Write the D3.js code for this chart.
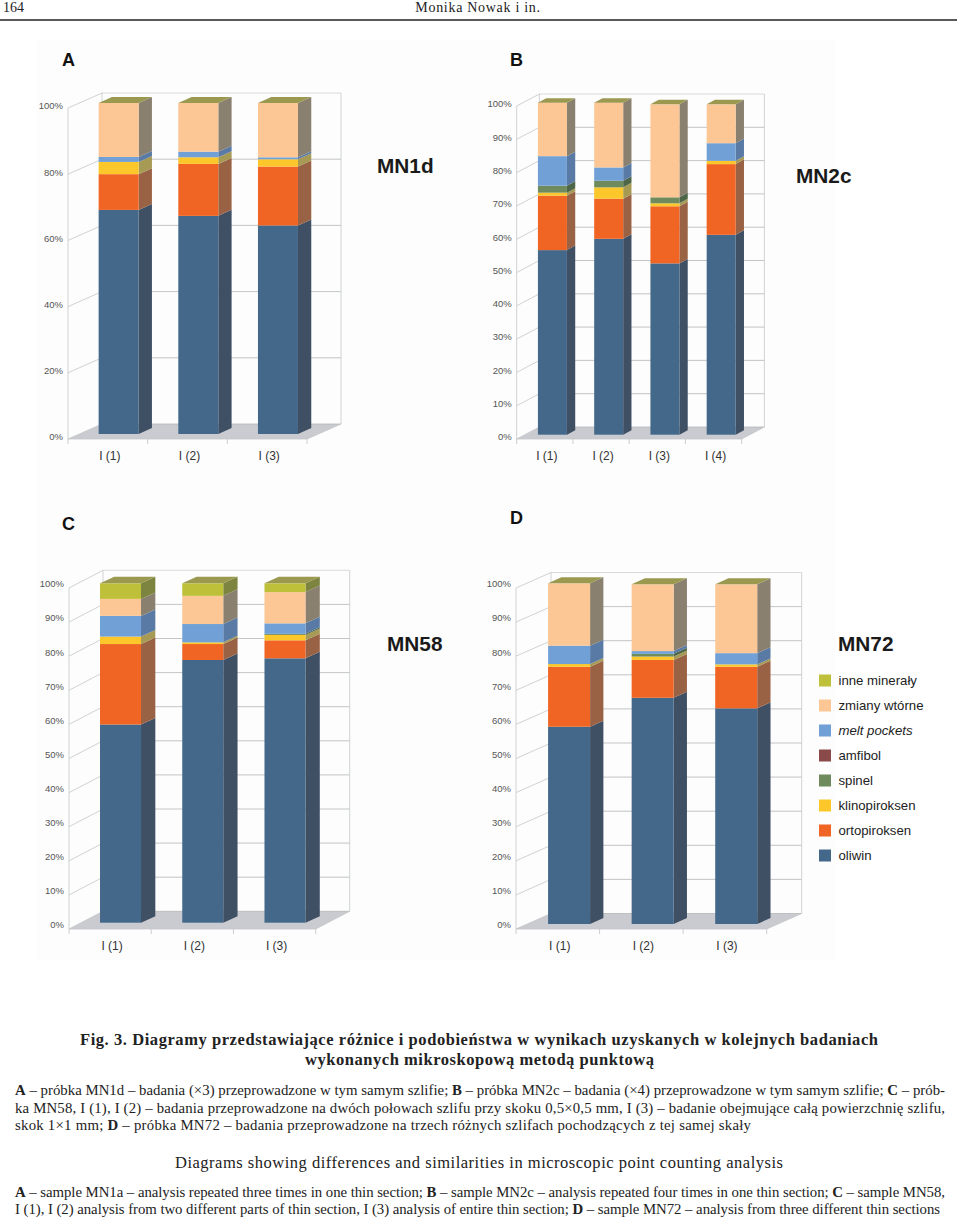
<!DOCTYPE html>
<html><head><meta charset="utf-8">
<script src="https://cdn.jsdelivr.net/npm/d3@7"></script>
<style>html,body{margin:0;padding:0;background:#fff}svg{display:block}</style>
</head><body><svg id="c" width="960" height="1218"></svg>
<script>
const seriesNames = ["oliwin","ortopiroksen","klinopiroksen","spinel","amfibol","melt pockets","zmiany wtórne","inne minerały"];
const faceColors = ["#44688a","#f06424","#fbc72a","#6f8a5c","#8a4a4a","#71a0d6","#fdc795","#bfc03a"];
const sideColors = ["#3f4f64","#9a6244","#a69a55","#4e6648","#5e3b3b","#5a7aa6","#8a8070","#7c8440"];
const topColor = "#9b9850";

const catsA = ["I (1)","I (2)","I (3)"];
const catsB = ["I (1)","I (2)","I (3)","I (4)"];
const catsC = ["I (1)","I (2)","I (3)"];
const catsD = ["I (1)","I (2)","I (3)"];
const ticks20 = [0,20,40,60,80,100];
const ticks10 = [0,10,20,30,40,50,60,70,80,90,100];

const valuesA = [
 [67.7,10.8,3.7,0,0,1.5,16.3,0],
 [65.9,15.7,2.0,0,0,1.7,14.7,0],
 [63.0,17.8,2.2,0,0,0.6,16.4,0]];
const valuesB = [
 [55.6,16.4,0.9,2.1,0,8.9,16.1,0],
 [59.0,12.1,3.4,2.0,0,4.0,19.5,0],
 [51.6,17.2,0.9,1.8,0,0,28.0,0],
 [60.2,21.3,1.0,0,0,5.3,11.7,0]];
const valuesC = [
 [58.4,23.7,2.2,0,0,6.1,5.0,4.6],
 [77.4,4.7,0.5,0,0,5.4,8.3,3.7],
 [77.9,5.3,1.6,0.3,0,3.1,9.2,2.6]];
const valuesD = [
 [57.9,17.6,0.8,0,0,5.4,18.3,0],
 [66.4,11.1,1.0,0.8,0,0.8,19.6,0],
 [63.3,12.2,0.7,0,0,3.3,20.2,0]];

const svg = d3.select("#c");
const SANS = "'Liberation Sans',Arial,sans-serif", SERIF = "'Liberation Serif','Times New Roman',serif";

svg.append("rect").attr("x",37).attr("y",40).attr("width",798).attr("height",920).attr("fill","#fdfdfd");

const panels = [
 {cats:catsA,vals:valuesA,ticks:ticks20,left:68,right:307,y0:439,y100:108,dx:34,dy:15,barW:40,off:10.8,barBase:434,barTop:103,ddx:13.3,ddy:6,ly:2},
 {cats:catsB,vals:valuesB,ticks:ticks10,left:516.7,right:741.7,y0:439,y100:106,dx:22.7,dy:12,barW:29,off:7.6,barBase:434.7,barTop:102.7,ddx:8.3,ddy:4.5,ly:2},
 {cats:catsC,vals:valuesC,ticks:ticks10,left:69,right:315.7,y0:929,y100:588,dx:34,dy:17.7,barW:41,off:10.4,barBase:922.7,barTop:583.3,ddx:14.3,ddy:6.5,ly:4},
 {cats:catsD,vals:valuesD,ticks:ticks10,left:516,right:766.7,y0:929,y100:588,dx:35,dy:15.5,barW:42,off:11.3,barBase:924,barTop:583.3,ddx:13.3,ddy:6,ly:4}
];

function drawPanel(p){
  const g = svg.append("g");
  const x = d3.scaleBand().domain(p.cats).range([p.left,p.right]);
  const y = d3.scaleLinear().domain([0,100]).range([p.y0,p.y100]);
  const yb = d3.scaleLinear().domain([0,100]).range([p.barBase,p.barTop]);
  const grid = "#b4b6b8";
  g.append("polygon").attr("fill","#c9cbd0")
   .attr("points",[[p.left,p.y0],[p.right,p.y0],[p.right+p.dx,p.y0-p.dy],[p.left+p.dx,p.y0-p.dy]].join(" "));
  g.selectAll(".h").data(p.ticks).join("line")
   .attr("x1",p.left+p.dx).attr("x2",p.right+p.dx)
   .attr("y1",d=>y(d)-p.dy).attr("y2",d=>y(d)-p.dy)
   .attr("stroke",d=>d===100?"#cfd1d3":grid).attr("stroke-width",0.8);
  g.selectAll(".d").data(p.ticks).join("line")
   .attr("x1",p.left).attr("x2",p.left+p.dx)
   .attr("y1",d=>y(d)).attr("y2",d=>y(d)-p.dy)
   .attr("stroke","#c4c6c8").attr("stroke-width",0.8);
  const frame = "#c4c6c8";
  [[p.left,y(0),p.left,y(100)],
   [p.left+p.dx,y(0)-p.dy,p.left+p.dx,y(100)-p.dy],
   [p.right+p.dx,y(0)-p.dy,p.right+p.dx,y(100)-p.dy],
   [p.right,y(0),p.right+p.dx,y(0)-p.dy],
   [p.left,y(0),p.right,y(0)]].forEach(l=>{
    g.append("line").attr("x1",l[0]).attr("y1",l[1]).attr("x2",l[2]).attr("y2",l[3])
     .attr("stroke",frame).attr("stroke-width",0.8);
  });
  const tickXs = p.cats.map(c=>x(c)).concat([p.right]);
  g.selectAll(".t").data(tickXs).join("line")
   .attr("x1",d=>d).attr("x2",d=>d).attr("y1",p.y0).attr("y2",p.y0+5)
   .attr("stroke","#c0c2c4").attr("stroke-width",0.8);
  g.selectAll(".yl").data(p.ticks).join("text")
   .attr("x",p.left-5).attr("y",d=>y(d)-p.ly).attr("dy","0.35em")
   .attr("text-anchor","end").attr("font-family",SANS).attr("font-size",9.5)
   .attr("fill","#555").text(d=>d+"%");
  g.selectAll(".xl").data(p.cats).join("text")
   .attr("x",d=>x(d)+x.bandwidth()/2+2).attr("y",p.y0+16.5).attr("dy","0.35em")
   .attr("text-anchor","middle").attr("font-family",SANS).attr("font-size",12)
   .attr("fill","#333").text(d=>d);
  p.cats.forEach((c,i)=>{
    const bx = x(c)+x.bandwidth()/2+p.off-p.barW/2;
    const b = g.append("g");
    let cum = 0;
    p.vals[i].forEach((v,s)=>{
      if(v<=0) return;
      const a=yb(cum), t=yb(cum+v);
      b.append("polygon").attr("fill",sideColors[s])
       .attr("points",[[bx+p.barW,a],[bx+p.barW+p.ddx,a-p.ddy],[bx+p.barW+p.ddx,t-p.ddy],[bx+p.barW,t]].join(" "));
      b.append("rect").attr("x",bx).attr("y",t).attr("width",p.barW).attr("height",a-t).attr("fill",faceColors[s]);
      cum+=v;
    });
    const t=yb(cum);
    b.append("polygon").attr("fill",topColor)
     .attr("points",[[bx,t],[bx+p.barW,t],[bx+p.barW+p.ddx,t-p.ddy],[bx+p.ddx,t-p.ddy]].join(" "));
  });
}
panels.forEach(drawPanel);

const panelLetters = [["A",62,66],["B",510,66],["C",62,530],["D",510,524]];
const sampleNames = [["MN1d",377,173],["MN2c",796,183],["MN58",387,651],["MN72",838,651]];
svg.selectAll(".pl").data(panelLetters).join("text").attr("x",d=>d[1]).attr("y",d=>d[2])
 .attr("font-family",SANS).attr("font-weight","bold").attr("font-size",18).attr("fill","#111").text(d=>d[0]);
svg.selectAll(".sn").data(sampleNames).join("text").attr("x",d=>d[1]).attr("y",d=>d[2])
 .attr("font-family",SANS).attr("font-weight","bold").attr("font-size",20.8).attr("fill","#1a1a1a").text(d=>d[0]);

const legendOrder = [7,6,5,4,3,2,1,0];
const legendY = d3.scalePoint().domain(legendOrder).range([680.5,855.5]);
const lg = svg.append("g");
lg.selectAll("rect").data(legendOrder).join("rect")
 .attr("x",819).attr("y",d=>legendY(d)-6).attr("width",12).attr("height",12).attr("fill",d=>faceColors[d]);
lg.selectAll("text").data(legendOrder).join("text")
 .attr("x",838.5).attr("y",d=>legendY(d)-0.5).attr("dy","0.35em")
 .attr("font-family",SANS).attr("font-size",13.2).attr("fill","#222")
 .attr("font-style",d=>seriesNames[d]==="melt pockets"?"italic":"normal").text(d=>seriesNames[d]);

svg.append("text").attr("x",3).attr("y",11.5).attr("font-family",SERIF).attr("font-size",14).attr("fill","#222").text("164");
svg.append("text").attr("x",478).attr("y",11.5).attr("text-anchor","middle").attr("font-family",SERIF).attr("font-size",14).attr("letter-spacing",0.7).attr("fill","#222").text("Monika Nowak i in.");
svg.append("line").attr("x1",0).attr("x2",957).attr("y1",20).attr("y2",20).attr("stroke","#222").attr("stroke-width",1.4);

function fit(x0,x1,y,size,parts,fw){
  const t = svg.append("text").attr("x",x0).attr("y",y).attr("font-family",SERIF).attr("font-size",size).attr("fill","#222");
  if(fw) t.attr("font-weight",fw);
  parts.forEach(p=>{
    const s=t.append("tspan").text(p.replace(/^\*/,""));
    if(p[0]==="*") s.attr("font-weight","bold");
  });
  const w=t.node().getComputedTextLength();
  const n=parts.join("").replace(/\*/g,"").length;
  t.attr("letter-spacing",(x1-x0-w)/(n-1));
}
fit(80,878,1045,16.5,["Fig. 3. Diagramy przedstawiające różnice i podobieństwa w wynikach uzyskanych w kolejnych badaniach"],"bold");
fit(305,654,1065,16.5,["wykonanych mikroskopową metodą punktową"],"bold");
fit(15,945,1095,14.8,["*A"," – próbka MN1d – badania (×3) przeprowadzone w tym samym szlifie; ","*B"," – próbka MN2c – badania (×4) przeprowadzone w tym samym szlifie; ","*C"," – prób-"]);
fit(15,945,1113,14.8,["ka MN58, I (1), I (2) – badania przeprowadzone na dwóch połowach szlifu przy skoku 0,5×0,5 mm, I (3) – badanie obejmujące całą powierzchnię szlifu,"]);
fit(15,751,1130,14.8,["skok 1×1 mm; ","*D"," – próbka MN72 – badania przeprowadzone na trzech różnych szlifach pochodzących z tej samej skały"]);
fit(175,783,1167.5,16.5,["Diagrams showing differences and similarities in microscopic point counting analysis"]);
fit(15,945,1197,14.8,["*A"," – sample MN1a – analysis repeated three times in one thin section; ","*B"," – sample MN2c – analysis repeated four times in one thin section; ","*C"," – sample MN58,"]);
fit(15,940,1214,14.8,["I (1), I (2) analysis from two different parts of thin section, I (3) analysis of entire thin section; ","*D"," – sample MN72 – analysis from three different thin sections"]);
</script></body></html>
